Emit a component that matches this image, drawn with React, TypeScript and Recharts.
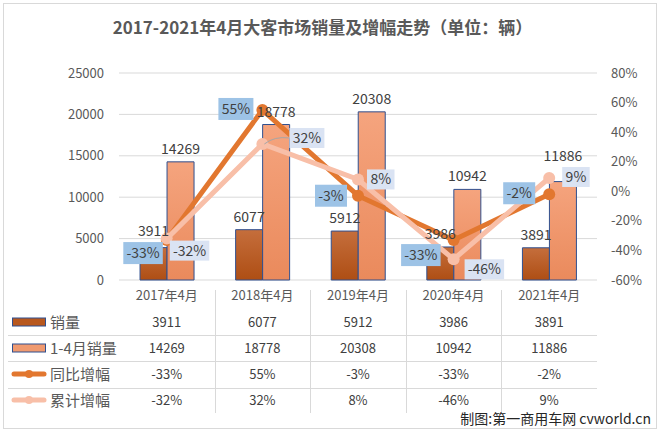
import React from "react";
import {
  ComposedChart,
  Bar,
  Line,
  XAxis,
  YAxis,
  CartesianGrid,
  LabelList,
} from "recharts";

const categories = ["2017年4月", "2018年4月", "2019年4月", "2020年4月", "2021年4月"];
const aprilSales = [3911, 6077, 5912, 3986, 3891];
const ytdSales = [14269, 18778, 20308, 10942, 11886];
const yoyGrowth = [-33, 55, -3, -33, -2];
const ytdGrowth = [-32, 32, 8, -46, 9];
const salesTicks = [0, 5000, 10000, 15000, 20000, 25000];
const growthTicks = [-60, -40, -20, 0, 20, 40, 60, 80];

const data = categories.map((name, i) => ({
  name,
  april: aprilSales[i],
  ytd: ytdSales[i],
  yoy: yoyGrowth[i],
  ytdGrowth: ytdGrowth[i],
}));

const FONT = '"Noto Sans CJK SC", "Noto Sans", sans-serif';
const TEXT = "#595959";
const DARK = "#E2772F";
const LIGHT = "#F8BFA8";

const pctWidth = (s: string) => {
  let w = 0;
  for (const c of s) w += c === "-" ? 4.5 : c === "%" ? 11 : 7.5;
  return w + 9;
};

// label box nudges, per point
const yoyNudge = [
  [-4, 13],
  [-9, -1],
  [-11, 0],
  [-13, 15],
  [-14, -1],
];
const ytdNudge = [
  [3, 12],
  [27, -6],
  [9, 0],
  [11, 10],
  [13, -1],
];
// extra lift for bar value labels that would hit a box
const aprilLift = [4, 0, 0, 0, 0];
const ytdLift = [0, 0, 0, 0, 13];

const YoyLabel = (props: any) => {
  const { x, y, value, index } = props;
  const txt = `${value}%`;
  const w = pctWidth(txt);
  const [dx, dy] = yoyNudge[index] || [-8, 0];
  const right = x + dx;
  const cy = y + dy;
  return (
    <g>
      <rect x={right - w} y={cy - 11} width={w} height={22} fill="#9DC3E6" />
      <text x={right - w / 2} y={cy} dy="0.36em" textAnchor="middle" fontSize={14} fill="#404040" fontFamily={FONT}>
        {txt}
      </text>
    </g>
  );
};

const YtdLabel = (props: any) => {
  const { x, y, value, index } = props;
  const txt = `${value}%`;
  const w = pctWidth(txt);
  const [dx, dy] = ytdNudge[index] || [8, 0];
  const left = x + dx;
  const cy = y + dy;
  return (
    <g>
      {dx > 20 && (
        <path d={`M${x + 2},${y} Q${x + 12},${cy - 2} ${left},${cy}`} stroke="#A6A6A6" fill="none" strokeWidth={1} />
      )}
      <rect x={left} y={cy - 10} width={w} height={20} fill="#DAE3F3" />
      <text x={left + w / 2} y={cy} dy="0.36em" textAnchor="middle" fontSize={14} fill="#404040" fontFamily={FONT}>
        {txt}
      </text>
    </g>
  );
};

const barLabel = (lift: number[]) => (props: any) => {
  const { x, y, width, value, index } = props;
  return (
    <text
      x={x + width / 2}
      y={y - 8 - (lift[index] || 0)}
      textAnchor="middle"
      fontSize={14}
      fill="#404040"
      fontFamily={FONT}
    >
      {value}
    </text>
  );
};

const tableRows = [
  { label: "销量", values: aprilSales.map(String), kind: "darkBar" },
  { label: "1-4月销量", values: ytdSales.map(String), kind: "lightBar" },
  { label: "同比增幅", values: yoyGrowth.map((v) => `${v}%`), kind: "darkLine" },
  { label: "累计增幅", values: ytdGrowth.map((v) => `${v}%`), kind: "lightLine" },
];

const PLOT_LEFT = 119;
const PLOT_RIGHT = 597;
const COL = (PLOT_RIGHT - PLOT_LEFT) / categories.length;

function Symbol({ kind }: { kind: string }) {
  if (kind === "darkBar" || kind === "lightBar") {
    return (
      <svg width={36} height={12} style={{ display: "block" }}>
        <rect x={1.5} y={2} width={33} height={8} fill={kind === "darkBar" ? "#B8581E" : "#F09A70"} stroke="#2F4F8F" strokeWidth={1} />
      </svg>
    );
  }
  const c = kind === "darkLine" ? DARK : LIGHT;
  return (
    <svg width={36} height={12} style={{ display: "block" }}>
      <line x1={3} y1={6} x2={33} y2={6} stroke={c} strokeWidth={5} strokeLinecap="round" />
      <circle cx={18} cy={6} r={4} fill={c} />
    </svg>
  );
}

export default function App() {
  return (
    <div
      style={{
        position: "absolute",
        left: 0,
        top: 0,
        width: 659,
        height: 430,
        background: "#fff",
        fontFamily: FONT,
        overflow: "hidden",
      }}
    >
      <div
        style={{
          position: "absolute",
          left: 3,
          top: 3,
          width: 652,
          height: 424,
          border: "1px solid #d9d9d9",
        }}
      />
      <div
        style={{
          position: "absolute",
          left: 0,
          top: 14,
          width: 645,
          textAlign: "center",
          fontSize: 17,
          fontWeight: "bold",
          color: TEXT,
        }}
      >
        2017-2021年4月大客市场销量及增幅走势（单位：辆）
      </div>

      <div style={{ position: "absolute", left: 0, top: 0 }}>
        <ComposedChart
          width={659}
          height={312}
          data={data}
          margin={{ top: 73, right: 0, left: 0, bottom: 0 }}
          barCategoryGap="22%"
          barGap={0}
        >
          <defs>
            <linearGradient id="darkGrad" x1="0" y1="0" x2="0" y2="1">
              <stop offset="0%" stopColor="#C56E3C" />
              <stop offset="100%" stopColor="#AE4E14" />
            </linearGradient>
            <linearGradient id="lightGrad" x1="0" y1="0" x2="0" y2="1">
              <stop offset="0%" stopColor="#F5A47E" />
              <stop offset="100%" stopColor="#EA8A5C" />
            </linearGradient>
          </defs>
          <CartesianGrid vertical={false} stroke="#d9d9d9" yAxisId="left" />
          <XAxis
            dataKey="name"
            height={32}
            tickLine={false}
            axisLine={false}
            tickSize={0}
            tickMargin={11}
            tick={{ fill: TEXT, fontSize: 13, fontFamily: FONT }}
            interval={0}
          />
          <YAxis
            yAxisId="left"
            orientation="left"
            width={119}
            domain={[0, 25000]}
            ticks={salesTicks}
            tickLine={false}
            axisLine={false}
            tickSize={0}
            tickMargin={15}
            tick={{ fill: TEXT, fontSize: 13, fontFamily: FONT }}
          />
          <YAxis
            yAxisId="right"
            orientation="right"
            width={62}
            domain={[-60, 80]}
            ticks={growthTicks}
            tickFormatter={(v) => `${v}%`}
            tickLine={false}
            axisLine={false}
            tickSize={0}
            tickMargin={14}
            tick={{ fill: TEXT, fontSize: 13, fontFamily: FONT, textAnchor: "start" }}
          />
          <Bar yAxisId="left" dataKey="april" fill="url(#darkGrad)" stroke="#2F4F8F" strokeWidth={1} isAnimationActive={false}>
            <LabelList dataKey="april" content={barLabel(aprilLift)} />
          </Bar>
          <Bar yAxisId="left" dataKey="ytd" fill="url(#lightGrad)" stroke="#2F4F8F" strokeWidth={1} isAnimationActive={false}>
            <LabelList dataKey="ytd" content={barLabel(ytdLift)} />
          </Bar>
          <Line
            yAxisId="right"
            dataKey="yoy"
            stroke={DARK}
            strokeWidth={5}
            dot={{ r: 6, fill: DARK, stroke: DARK, strokeWidth: 0 }}
            isAnimationActive={false}
          >
            <LabelList dataKey="yoy" content={YoyLabel} />
          </Line>
          <Line
            yAxisId="right"
            dataKey="ytdGrowth"
            stroke={LIGHT}
            strokeWidth={5}
            dot={{ r: 6, fill: LIGHT, stroke: LIGHT, strokeWidth: 0 }}
            isAnimationActive={false}
          >
            <LabelList dataKey="ytdGrowth" content={YtdLabel} />
          </Line>
        </ComposedChart>
      </div>

      {/* data table under the axis */}
      {categories.slice(1).map((_, i) => (
        <div
          key={`v${i}`}
          style={{
            position: "absolute",
            left: Math.round(PLOT_LEFT + COL * (i + 1)),
            top: 290,
            width: 1,
            height: 123,
            background: "#d9d9d9",
          }}
        />
      ))}
      {[335, 361, 388].map((y) => (
        <div
          key={`h${y}`}
          style={{
            position: "absolute",
            left: 8,
            top: y,
            width: PLOT_RIGHT - 8,
            height: 1,
            background: "#d9d9d9",
          }}
        />
      ))}
      {tableRows.map((row, r) => {
        const cy = 322 + r * 26;
        return (
          <React.Fragment key={row.label}>
            <div style={{ position: "absolute", left: 11, top: cy - 6 }}>
              <Symbol kind={row.kind} />
            </div>
            <div
              style={{
                position: "absolute",
                left: 50,
                top: cy - 11,
                height: 22,
                lineHeight: "22px",
                fontSize: 15,
                color: TEXT,
                whiteSpace: "nowrap",
              }}
            >
              {row.label}
            </div>
            {row.values.map((v, c) => (
              <div
                key={c}
                style={{
                  position: "absolute",
                  left: PLOT_LEFT + COL * c,
                  width: COL,
                  top: cy - 11,
                  height: 22,
                  lineHeight: "22px",
                  textAlign: "center",
                  fontSize: 13,
                  color: "#404040",
                }}
              >
                {v}
              </div>
            ))}
          </React.Fragment>
        );
      })}
      <div
        style={{
          position: "absolute",
          right: 8,
          top: 408,
          fontSize: 14,
          color: "#262626",
          whiteSpace: "nowrap",
        }}
      >
        制图:第一商用车网 cvworld.cn
      </div>
    </div>
  );
}
